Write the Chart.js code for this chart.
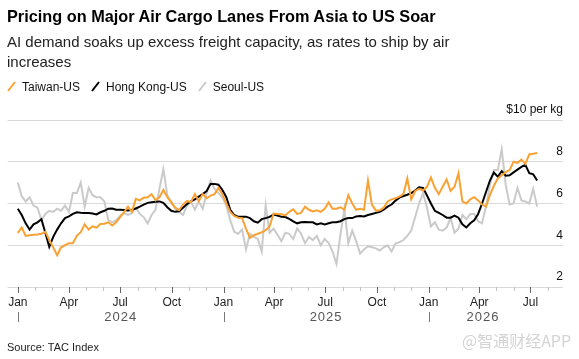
<!DOCTYPE html>
<html>
<head>
<meta charset="utf-8">
<script src="https://cdn.jsdelivr.net/npm/chart.js@4.4.1/dist/chart.umd.min.js"></script>
<style>
body { margin: 0; background: #fff; font-family: "Liberation Sans", Arial, sans-serif; }
#wrap { position: relative; width: 579px; height: 359px; overflow: hidden; }
#c { position: absolute; left: 0; top: 0; }
.txt { position: absolute; left: 7px; white-space: nowrap; color: #000; }
#title { top: 6px; font-size: 16.3px; font-weight: bold; line-height: 20px; }
#sub { top: 32px; font-size: 15px; line-height: 20px; color: #222; }
#legend { top: 79px; font-size: 12px; line-height: 16px; color: #111; }
#legend span.item { display: inline-block; margin-right: 11px; }
#legend svg { vertical-align: -1px; margin-right: 6px; }
#source { top: 340px; font-size: 11px; line-height: 15px; color: #222; }
#mark { position: absolute; left: 462px; top: 328px; font-size: 16px; color: #d4d4d4;
        font-family: "Noto Sans CJK SC", "Liberation Sans", sans-serif; white-space: nowrap; }
</style>
</head>
<body>
<div id="wrap">
  <canvas id="c" width="579" height="359"></canvas>
  <div id="title" class="txt">Pricing on Major Air Cargo Lanes From Asia to US Soar</div>
  <div id="sub" class="txt">AI demand soaks up excess freight capacity, as rates to ship by air<br>increases</div>
  <div id="legend" class="txt"></div>
  <div id="source" class="txt">Source: TAC Index</div>
  <div id="mark">@智通财经APP</div>
</div>
<script>
// weekly readings, first week = Jan 1 2024
var FIRST_WEEK = [2024, 0, 1];

var TAIWAN = [
    4.59, 4.85, 4.45, 4.48, 4.50, 4.52, 4.55, 4.65, 4.25, 3.90,
    3.52, 3.90, 4.00, 4.10, 4.10, 4.45, 4.63, 5.00, 4.75, 4.90,
    4.84, 5.02, 5.03, 5.10, 4.95, 5.10, 5.35, 5.59, 5.85, 5.60,
    6.22, 6.15, 6.28, 6.30, 6.45, 6.15, 6.30, 6.65, 6.30, 6.05,
    5.80, 5.68, 5.95, 6.12, 6.06, 6.45, 6.11, 6.45, 6.25, 6.38,
    6.45, 6.75, 6.45, 6.00, 5.60, 5.40, 5.32, 5.30, 4.80, 4.35,
    4.48, 4.55, 4.62, 4.72, 4.90, 5.52, 5.50, 5.48, 5.43, 5.60,
    5.72, 5.50, 5.55, 5.85, 5.70, 5.62, 5.67, 5.60, 5.75, 6.05,
    5.75, 5.75, 5.82, 5.70, 6.40, 6.00, 5.70, 5.75, 5.70, 7.10,
    5.95, 5.66, 5.67, 5.80, 6.10, 6.20, 6.25, 6.33, 6.45, 7.20,
    6.20, 6.60, 6.70, 6.62, 6.80, 7.25, 6.75, 6.45, 6.80, 7.15,
    6.60, 6.80, 7.45, 6.10, 6.00, 6.20, 6.30, 6.15, 5.95, 5.85,
    6.40, 6.85, 7.20, 7.35, 7.50, 7.60, 8.00, 7.95, 8.10, 7.90,
    8.35, 8.38, 8.42
];

var HONG_KONG = [
    5.75, 5.45, 5.05, 4.75, 5.00, 5.10, 5.25, 4.60, 3.92, 4.40,
    4.75, 5.05, 5.30, 5.38, 5.50, 5.58, 5.56, 5.55, 5.54, 5.52,
    5.48, 5.58, 5.65, 5.75, 5.76, 5.70, 5.70, 5.69, 5.67, 5.70,
    5.76, 5.85, 5.95, 6.03, 6.06, 6.08, 6.10, 6.03, 5.82, 5.65,
    5.60, 5.63, 5.80, 5.97, 6.10, 6.20, 6.33, 6.45, 6.60, 6.94,
    6.94, 6.90, 6.65, 6.30, 5.70, 5.45, 5.36, 5.37, 5.37, 5.30,
    5.15, 5.08, 5.25, 5.30, 5.36, 5.47, 5.42, 5.37, 5.35, 5.26,
    5.14, 5.05, 5.10, 5.11, 5.10, 5.10, 5.00, 5.05, 5.00, 5.05,
    5.10, 5.10, 5.15, 5.25, 5.30, 5.30, 5.38, 5.40, 5.38, 5.45,
    5.50, 5.55, 5.60, 5.70, 5.85, 5.95, 6.14, 6.28, 6.36, 6.42,
    6.50, 6.62, 6.78, 6.75, 6.38, 6.00, 5.65, 5.55, 5.45, 5.32,
    5.32, 5.42, 5.32, 5.00, 4.85, 5.05, 5.20, 5.50, 6.00, 6.55,
    7.10, 7.48, 7.28, 7.55, 7.33, 7.35, 7.49, 7.62, 7.75, 7.85,
    7.45, 7.40, 7.10
];

var SEOUL = [
    7.00, 6.35, 6.10, 6.30, 5.90, 5.80, 5.20, 5.50, 5.65, 5.60,
    5.75, 5.65, 5.90, 5.60, 6.50, 6.50, 7.00, 5.85, 6.75, 6.40,
    6.30, 6.30, 6.10, 5.20, 5.10, 5.20, 5.40, 5.55, 5.45, 5.55,
    5.80, 5.50, 5.35, 5.05, 5.45, 5.70, 6.70, 7.65, 6.40, 6.10,
    5.75, 5.60, 5.45, 5.90, 6.10, 5.70, 6.10, 5.75, 6.50, 7.10,
    6.70, 6.50, 6.30, 5.90, 5.20, 4.65, 4.55, 4.75, 3.80, 4.55,
    4.40, 4.30, 3.70, 5.90, 4.60, 4.80, 4.50, 4.20, 4.60, 4.55,
    4.30, 4.80, 4.55, 4.10, 4.40, 4.25, 4.45, 4.00, 4.30, 4.10,
    3.70, 3.10, 4.50, 5.75, 4.10, 4.70, 4.20, 3.60, 3.80, 3.95,
    3.90, 3.85, 3.75, 3.90, 4.00, 3.70, 4.08, 4.15, 4.25, 4.45,
    4.70, 5.35, 6.00, 6.50, 5.80, 4.90, 5.10, 4.75, 4.70, 4.85,
    5.30, 4.60, 4.80, 5.45, 5.25, 5.50, 5.50, 5.15, 5.05, 5.85,
    6.90, 7.60, 7.60, 8.60, 6.90, 5.95, 6.00, 6.75, 6.15, 6.10,
    6.00, 6.70, 5.85
];

var SERIES_NAMES = ["Taiwan-US", "Hong Kong-US", "Seoul-US"];
var SERIES_COLORS = ["#f9a234", "#000000", "#cacaca"];

var Y_TICKS = [2, 4, 6, 8, 10];
var Y_UNIT = "$10 per kg";
var MONTH_NAMES = ["Jan", "", "", "Apr", "", "", "Jul", "", "", "Oct", "", ""];
var YEARS = [2024, 2025, 2026];

var DAY = 86400000;
var START = Date.UTC(FIRST_WEEK[0], FIRST_WEEK[1], FIRST_WEEK[2]);

function dayOf(y, m, d) {
    return (Date.UTC(y, m, d) - START) / DAY;
}

function weekly(values) {
    return values.map(function (v, i) {
        return { x: 7 * i, y: v };
    });
}

var X_MIN = dayOf(2023, 11, 14);
var X_MAX = dayOf(2026, 7, 28);
var LAST_DAY = 7 * (TAIWAN.length - 1);

// one tick per month, labels only on quarters
var monthTicks = [];
var monthLabels = {};
YEARS.forEach(function (y) {
    for (var m = 0; m < 12; m++) {
        var d = dayOf(y, m, 1);
        if (d > X_MAX) break;
        monthTicks.push(d);
        monthLabels[d] = MONTH_NAMES[m];
    }
});

// legend in html
var legendHtml = "";
SERIES_NAMES.forEach(function (name, i) {
    legendHtml += '<span class="item"><svg width="9" height="11"><line x1="1" y1="10" x2="8" y2="1" stroke="' +
        SERIES_COLORS[i] + '" stroke-width="2"/></svg>' + name + "</span>";
});
document.getElementById("legend").innerHTML = legendHtml;

var axisDecor = {
    id: "axisDecor",
    afterDraw: function (chart) {
        var ctx = chart.ctx;
        var xs = chart.scales.x;
        var bottom = chart.chartArea.bottom;
        ctx.save();
        ctx.lineWidth = 1;
        xs.ticks.forEach(function (t) {
            var px = Math.round(xs.getPixelForValue(t.value)) + 0.5;
            var major = monthLabels[t.value] !== "";
            ctx.strokeStyle = major ? "#666" : "#c4c4c4";
            ctx.beginPath();
            ctx.moveTo(px, bottom);
            ctx.lineTo(px, bottom + (major ? 6 : 4));
            ctx.stroke();
        });
        // year separators and year names
        ctx.font = "13px 'Liberation Sans', Arial, sans-serif";
        ctx.fillStyle = "#555";
        ctx.textAlign = "center";
        ctx.textBaseline = "middle";
        if ("letterSpacing" in ctx) ctx.letterSpacing = "1px";
        YEARS.forEach(function (y) {
            var a = dayOf(y, 0, 1);
            var b = Math.min(dayOf(y + 1, 0, 1), LAST_DAY);
            var px = Math.round(xs.getPixelForValue(a)) + 0.5;
            ctx.strokeStyle = "#777";
            ctx.beginPath();
            ctx.moveTo(px, bottom + 25);
            ctx.lineTo(px, bottom + 35);
            ctx.stroke();
            ctx.fillText(String(y), xs.getPixelForValue((a + b) / 2), bottom + 30);
        });
        ctx.restore();
    }
};

var datasets = [TAIWAN, HONG_KONG, SEOUL].map(function (vals, i) {
    return {
        label: SERIES_NAMES[i],
        data: weekly(vals),
        borderColor: SERIES_COLORS[i],
        borderWidth: 2,
        pointRadius: 0,
        tension: 0,
        fill: false
    };
});

new Chart(document.getElementById("c"), {
    type: "line",
    data: { datasets: datasets },
    options: {
        animation: false,
        responsive: false,
        devicePixelRatio: 1,
        layout: { padding: { left: 7, right: 16, top: 120, bottom: 22 } },
        plugins: { legend: { display: false }, tooltip: { enabled: false } },
        scales: {
            x: {
                type: "linear",
                min: X_MIN,
                max: X_MAX,
                afterBuildTicks: function (scale) {
                    scale.ticks = monthTicks.map(function (v) { return { value: v }; });
                },
                afterFit: function (scale) { scale.height = 50; },
                grid: { display: false, drawTicks: false },
                border: { display: false },
                ticks: {
                    autoSkip: false,
                    maxRotation: 0,
                    padding: 8,
                    color: "#222",
                    font: { family: "'Liberation Sans', Arial, sans-serif", size: 12 },
                    callback: function (value) { return monthLabels[value]; }
                }
            },
            y: {
                position: "right",
                min: 2,
                max: 10,
                afterBuildTicks: function (scale) {
                    scale.ticks = Y_TICKS.map(function (v) { return { value: v }; });
                },
                grid: { color: "#d9d9d9", drawTicks: false },
                border: { display: false },
                ticks: {
                    mirror: true,
                    padding: 0,
                    labelOffset: -10,
                    color: "#111",
                    font: { family: "'Liberation Sans', Arial, sans-serif", size: 12 },
                    callback: function (value) { return value === 10 ? Y_UNIT : value; }
                }
            }
        }
    },
    plugins: [axisDecor]
});
</script>
</body>
</html>
